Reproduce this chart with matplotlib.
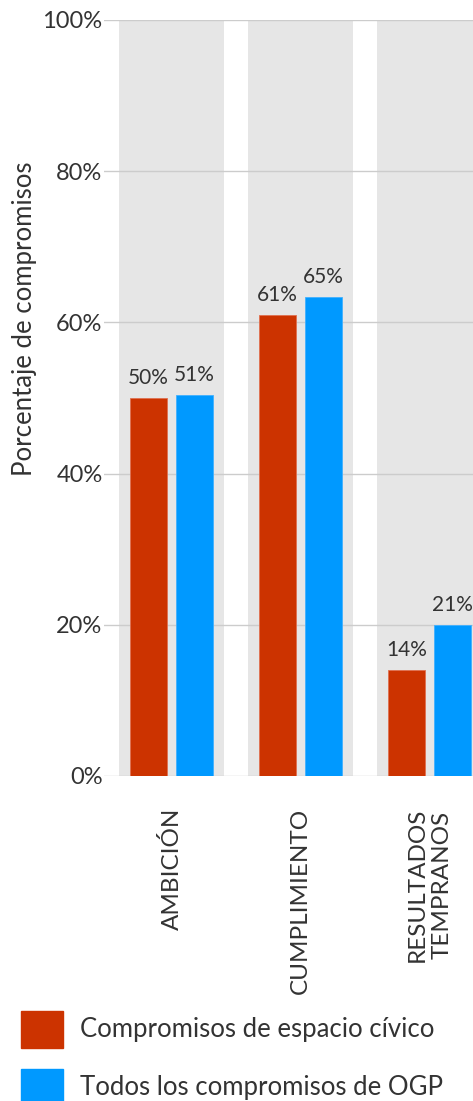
import numpy as np
import matplotlib.pyplot as plt
from matplotlib.patches import Rectangle

plt.rcParams['font.family'] = ['Lato', 'DejaVu Sans']

# Data
categories = ['AMBICIÓN', 'CUMPLIMIENTO', 'RESULTADOS\nTEMPRANOS']
series_names = ['Compromisos de espacio cívico', 'Todos los compromisos de OGP']
civic = [50.0, 61.0, 14.0]
all_ogp = [50.4, 63.4, 20.0]
civic_labels = ['50%', '61%', '14%']
all_labels = ['51%', '65%', '21%']
yticks = [0, 20, 40, 60, 80, 100]

red = '#CC3300'
blue = '#0099FF'
txt = '#333333'

W, H = 473, 1101
fig = plt.figure(figsize=(W / 100, H / 100), dpi=100)
ax = fig.add_axes([104 / W, (H - 776) / H, (473 - 104) / W, (776 - 20) / H])

x = np.arange(len(categories))
bw = 0.287
off = 0.178

# gray background bands
for xi in x:
    ax.axvspan(xi - 0.41, xi + 0.41, color='#E6E6E6', zorder=0, lw=0)

for t in yticks:
    ax.axhline(t, color='#CCCCCC', lw=1, zorder=1)

b1 = ax.bar(x - off, civic, bw, color=red, edgecolor='#E07050', lw=0.6, zorder=2)
b2 = ax.bar(x + off, all_ogp, bw, color=blue, edgecolor='#40B0FF', lw=0.6, zorder=2)

for bars, labels in ((b1, civic_labels), (b2, all_labels)):
    for r, lab in zip(bars, labels):
        ax.text(r.get_x() + r.get_width() / 2, r.get_height() + 1.3, lab,
                ha='center', va='bottom', fontsize=15, color=txt)

ax.set_xlim(-0.523, 2.337)
ax.set_ylim(0, 100)
ax.set_yticks(yticks)
ax.set_yticklabels([f'{t}%' for t in yticks], fontsize=17, color=txt)
ax.tick_params(axis='y', length=0, pad=1)
ax.set_xticks(x)
ax.set_xticklabels(categories, rotation=90, fontsize=17.5, color=txt,
                   va='top', ha='center', linespacing=1.25)
ax.tick_params(axis='x', length=0, pad=23)
for s in ax.spines.values():
    s.set_visible(False)

fig.text(25 / W, 1 - 319 / H, 'Porcentaje de compromisos', rotation=90,
         ha='center', va='center', fontsize=18.5, color=txt)

# legend
for i, (name, c) in enumerate(zip(series_names, [red, blue])):
    yc = 1029 + i * 58
    fig.patches.append(Rectangle((21 / W, 1 - (yc + 18.5) / H), 42 / W, 37 / H,
                                 transform=fig.transFigure, color=c))
    fig.text(80 / W, 1 - yc / H, name, ha='left', va='center',
             fontsize=18.5, color=txt)

fig.savefig('out.png', dpi=100)
